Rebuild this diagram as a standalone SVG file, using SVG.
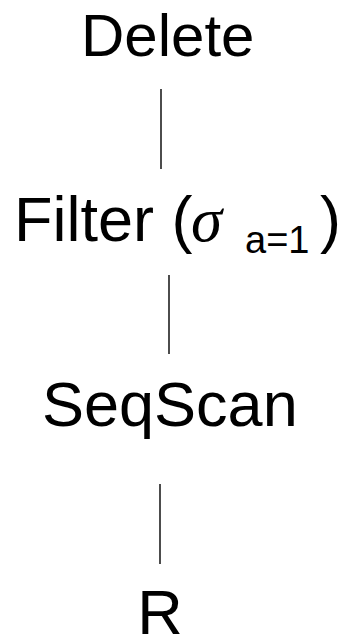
<svg xmlns="http://www.w3.org/2000/svg" width="341" height="634" viewBox="0 0 341 634">
<style>
.lbl{font-family:"Liberation Sans",Arial,sans-serif;fill:#000;}
.edge{stroke:#000;stroke-width:1.4;fill:none;}
.sig{font-family:"Liberation Serif","Times New Roman",serif;font-style:italic;}
</style>
<rect width="341" height="634" fill="#fff"/>
<g id="connectors">
<line class="edge" x1="161" y1="89" x2="161" y2="169"/>
<line class="edge" x1="169" y1="275" x2="169" y2="354"/>
<line class="edge" x1="160" y1="484" x2="160" y2="564"/>
</g>
<g id="delete"><text class="lbl" x="81" y="56" font-size="60">Delete</text></g>
<g id="filter"><text class="lbl" y="241" font-size="63"><tspan x="14">Filter (</tspan><tspan x="191" class="sig">σ</tspan><tspan x="245" y="253" font-size="38">a=1</tspan><tspan x="320" y="241">)</tspan></text></g>
<g id="seqscan"><text class="lbl" x="42" y="426" font-size="63">SeqScan</text></g>
<g id="r"><text class="lbl" x="160" y="634" font-size="63" text-anchor="middle">R</text></g>
</svg>
